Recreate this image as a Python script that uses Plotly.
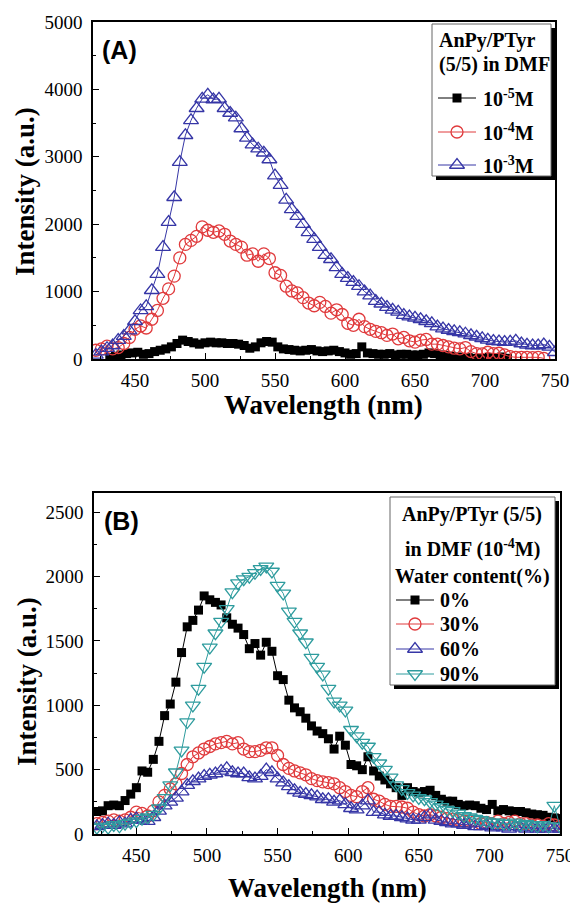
import plotly.graph_objects as go

# ---------------- DATA ----------------
# Panel A: AnPy/PTyr (5/5) in DMF, different concentrations
wl_a = [422, 426, 430, 434, 438, 442, 446, 450, 454, 458,
        462, 466, 470, 474, 478, 482, 486, 490, 494, 498,
        502, 506, 510, 514, 518, 522, 526, 530, 534, 538,
        542, 546, 550, 554, 558, 562, 566, 570, 574, 578,
        582, 586, 590, 594, 598, 602, 606, 610, 614, 618,
        622, 626, 630, 634, 638, 642, 646, 650, 654, 658,
        662, 666, 670, 674, 678, 682, 686, 690, 694, 698,
        702, 706, 710, 714, 718, 722, 726, 730, 734, 738,
        742, 746, 750]

int_a_1e3 = [60, 110, 160, 200, 280, 340, 420, 560, 720, 780,
             1020, 1260, 1660, 2030, 2400, 2920, 3320, 3540, 3720, 3860,
             3920, 3850, 3860, 3720, 3650, 3580, 3420, 3280, 3180, 3120,
             3060, 2960, 2720, 2580, 2360, 2220, 2120, 2000, 1880, 1780,
             1660, 1540, 1480, 1360, 1260, 1200, 1140, 1080, 1000, 940,
             860, 820, 770, 730, 700, 650, 630, 610, 590, 560,
             530, 480, 450, 430, 410, 395, 375, 350, 330, 305,
             285, 265, 260, 250, 255, 270, 230, 210, 200, 200,
             215, 180, 100]

wl_a_1e4 = wl_a[:81]
int_a_1e4 = [130, 150, 190, 150, 170, 230, 320, 440, 490, 460,
             590, 720, 900, 1040, 1230, 1500, 1700, 1760, 1820, 1960,
             1910, 1880, 1900, 1850, 1750, 1700, 1660, 1540, 1560, 1450,
             1560, 1490, 1280, 1240, 1080, 1010, 980, 910, 830, 790,
             840, 780, 680, 730, 660, 530, 500, 590, 480, 440,
             410, 390, 350, 370, 300, 320, 270, 250, 280, 290,
             220, 220, 200, 180, 160, 150, 170, 110, 80, 75,
             100, 80, 85, 60, 35, 25, 25, 25, 20, 25,
             10]

wl_a_1e5 = [432, 436, 440, 444, 448, 452, 456, 460, 464, 468,
            472, 476, 480, 484, 488, 492, 496, 500, 504, 508,
            512, 516, 520, 524, 528, 532, 536, 540, 544, 548,
            552, 556, 560, 564, 568, 572, 576, 580, 584, 588,
            592, 596, 600, 604, 608, 612, 616, 620, 624, 628,
            632, 636, 640, 644, 648, 652, 656, 660, 664, 668,
            672, 676, 680, 684, 688, 692, 696, 700, 704, 708,
            712, 716]
int_a_1e5 = [20, 40, 60, 80, 90, 100, 70, 80, 110, 130,
             150, 180, 230, 280, 260, 240, 220, 240, 250, 240,
             240, 230, 230, 220, 200, 160, 180, 240, 260, 250,
             180, 150, 140, 130, 120, 130, 140, 120, 110, 120,
             130, 110, 90, 70, 80, 180, 90, 80, 70, 70,
             80, 60, 70, 70, 60, 60, 70, 90, 80, 60,
             50, 40, 30, 20, 20, 10, 10, 10, 20, 10,
             30, 10]

# Panel B: AnPy/PTyr (5/5) in DMF (1e-4 M), water content
wl_b = list(wl_a)
int_b_0 = [175, 180, 220, 225, 220, 260, 310, 360, 490, 480,
           580, 720, 920, 1010, 1180, 1410, 1610, 1660, 1740, 1850,
           1820, 1800, 1780, 1680, 1630, 1600, 1550, 1440, 1480, 1390,
           1490, 1420, 1230, 1200, 1040, 980, 950, 900, 840, 800,
           780, 740, 660, 760, 690, 540, 530, 500, 600, 490,
           450, 420, 390, 360, 300, 360, 330, 320, 330, 340,
           300, 270, 255, 255, 230, 220, 225, 220, 200, 190,
           230, 180, 190, 180, 175, 175, 165, 155, 150, 145,
           130, 125, 120]
int_b_30 = [80, 90, 100, 110, 100, 110, 130, 170, 160, 140,
            180, 250, 300, 350, 390, 470, 540, 600, 630, 660,
            680, 700, 710, 720, 700, 710, 660, 640, 640, 650,
            670, 670, 610, 540, 510, 490, 475, 460, 430, 415,
            405, 400, 390, 360, 330, 300, 290, 330, 360, 270,
            255, 230, 215, 215, 210, 200, 170, 150, 140, 150,
            140, 130, 120, 115, 110, 100, 100, 100, 80, 90,
            80, 100, 80, 90, 100, 80, 80, 70, 70, 60,
            80, 70, 60]
int_b_60 = [60, 70, 80, 70, 90, 80, 110, 120, 110, 100,
            130, 180, 220, 250, 280, 330, 380, 410, 430, 450,
            460, 470, 490, 510, 480, 470, 470, 440, 430, 450,
            500, 480, 430, 400, 370, 340, 320, 310, 300, 290,
            270, 270, 250, 260, 230, 200, 190, 220, 260, 170,
            170, 150, 140, 140, 130, 120, 110, 110, 130, 150,
            110, 100, 90, 80, 80, 70, 80, 60, 60, 70,
            50, 60, 50, 40, 60, 50, 40, 50, 40, 40,
            50, 40, 40]
int_b_90 = [50, 60, 50, 70, 60, 80, 90, 100, 120, 130,
            150, 200, 280, 380, 480, 650, 870, 1000, 1130, 1300,
            1450, 1560, 1650, 1750, 1880, 1950, 1980, 2000, 2030, 2060,
            2080, 2040, 1930, 1870, 1730, 1650, 1560, 1490, 1370, 1300,
            1240, 1130, 1030, 1000, 960, 810, 760, 710, 680, 600,
            550, 500, 440, 380, 350, 320, 300, 280, 270, 250,
            230, 210, 190, 180, 160, 140, 130, 120, 110, 100,
            90, 90, 80, 80, 90, 70, 80, 70, 60, 70,
            60, 220, 60]

for xs, ys in [(wl_a, int_a_1e3), (wl_a_1e4, int_a_1e4), (wl_a_1e5, int_a_1e5),
               (wl_b, int_b_0), (wl_b, int_b_30), (wl_b, int_b_60), (wl_b, int_b_90)]:
    assert len(xs) == len(ys), (len(xs), len(ys))

# ---------------- STYLE ----------------
W, H = 570, 903
SERIF = "Liberation Serif"
SANS = "Liberation Sans"
BLACK = "#000000"
RED = "#E03A3C"
BLUE = "#3636A6"
TEAL = "#2E9C9E"

STY = {
    "sq": dict(symbol="square", size=9, color=BLACK, line=dict(width=0)),
    "ci": dict(symbol="circle-open", size=12, color=RED, line=dict(width=1.3, color=RED)),
    "tu": dict(symbol="triangle-up-open", size=13, color=BLUE, line=dict(width=1.3, color=BLUE)),
    "td": dict(symbol="triangle-down-open", size=13, color=TEAL, line=dict(width=1.3, color=TEAL)),
}
LINECOL = {"sq": BLACK, "ci": RED, "tu": BLUE, "td": TEAL}

fig = go.Figure()


def add_series(x, y, key, xa, ya):
    fig.add_trace(go.Scatter(
        x=x, y=y, mode="lines+markers", xaxis=xa, yaxis=ya,
        marker=STY[key], line=dict(color=LINECOL[key], width=1),
        showlegend=False, hoverinfo="skip"))


add_series(wl_a_1e5, int_a_1e5, "sq", "x", "y")
add_series(wl_a_1e4, int_a_1e4, "ci", "x", "y")
add_series(wl_a, int_a_1e3, "tu", "x", "y")

add_series(wl_b, int_b_0, "sq", "x2", "y2")
add_series(wl_b, int_b_30, "ci", "x2", "y2")
add_series(wl_b, int_b_60, "tu", "x2", "y2")
add_series(wl_b, int_b_90, "td", "x2", "y2")

# ---------------- AXES ----------------
tickfont = dict(family=SERIF, size=19, color=BLACK)


def xax(domain, anchor):
    return dict(domain=domain, anchor=anchor, range=[420, 750], tick0=450, dtick=50,
                showline=True, linecolor=BLACK, linewidth=1.5, mirror=True,
                ticks="inside", ticklen=6, tickwidth=1.2, tickcolor=BLACK,
                minor=dict(ticks="inside", ticklen=3, dtick=25, tickwidth=1, tickcolor=BLACK),
                showgrid=False, zeroline=False, tickfont=tickfont, ticklabelstandoff=3,
                ticklabeloverflow="allow", automargin=False)


def yax(domain, anchor, rng, dtick):
    return dict(domain=domain, anchor=anchor, range=rng, tick0=0, dtick=dtick,
                showline=True, linecolor=BLACK, linewidth=1.5, mirror=True,
                ticks="inside", ticklen=6, tickwidth=1.2, tickcolor=BLACK,
                minor=dict(ticks="inside", ticklen=3, dtick=dtick / 2, tickwidth=1, tickcolor=BLACK),
                showgrid=False, zeroline=False, tickfont=tickfont, ticklabelstandoff=5,
                ticklabeloverflow="allow", automargin=False)


fig.update_layout(
    width=W, height=H, margin=dict(l=0, r=0, t=0, b=0, pad=0, autoexpand=False),
    paper_bgcolor="white", plot_bgcolor="rgba(0,0,0,0)",
    font=dict(family=SERIF, color=BLACK),
    xaxis=xax([93 / W, 555 / W], "y"),
    yaxis=yax([1 - 359 / H, 1 - 22 / H], "x", [0, 5000], 1000),
    xaxis2=xax([94 / W, 560 / W], "y2"),
    yaxis2=yax([1 - 834 / H, 1 - 493 / H], "x2", [0, 2650], 500),
    # pixel-coordinate overlay used for the hand-drawn legends
    xaxis3=dict(domain=[0, 1], anchor="y3", range=[0, W], visible=False, fixedrange=True,
                automargin=False),
    yaxis3=dict(domain=[0, 1], anchor="x3", range=[H, 0], visible=False, fixedrange=True,
                automargin=False),
)

# ---------------- TITLES / LABELS ----------------
ann = []
titlefont = dict(family=SERIF, size=27, color=BLACK)
for (xc, yc, txt, rot) in [(323, 405, "<b>Wavelength (nm)</b>", 0),
                           (327, 888, "<b>Wavelength (nm)</b>", 0),
                           (25, 192, "<b>Intensity (a.u.)</b>", -90),
                           (27, 682, "<b>Intensity (a.u.)</b>", -90)]:
    ann.append(dict(x=xc, y=yc, xref="x3", yref="y3", text=txt, textangle=rot,
                    showarrow=False, xanchor="center", yanchor="middle", font=titlefont))

for (xl, yc, txt) in [(100, 50, "<b>(A)</b>"), (102, 521, "<b>(B)</b>")]:
    ann.append(dict(x=xl, y=yc, xref="x3", yref="y3", text=txt, showarrow=False,
                    xanchor="left", yanchor="middle",
                    font=dict(family=SANS, size=25, color=BLACK)))

# ---------------- LEGENDS ----------------
legfont = dict(family=SERIF, size=20, color=BLACK)
shapes = []


def legend_box(x0, y0, x1, y1):
    shapes.append(dict(type="rect", xref="x3", yref="y3", x0=x0 + 4, y0=y0 + 4, x1=x1 + 4, y1=y1 + 4,
                       fillcolor=BLACK, line=dict(width=0), layer="below"))
    shapes.append(dict(type="rect", xref="x3", yref="y3", x0=x0, y0=y0, x1=x1, y1=y1,
                       fillcolor="white", line=dict(color="#666666", width=1), layer="below"))


def legend_entry(lx0, lx1, yc, key, label, tx):
    fig.add_trace(go.Scatter(x=[lx0, lx1], y=[yc, yc], mode="lines", xaxis="x3", yaxis="y3",
                             line=dict(color=LINECOL[key], width=1), showlegend=False, hoverinfo="skip"))
    fig.add_trace(go.Scatter(x=[(lx0 + lx1) / 2], y=[yc], mode="markers", xaxis="x3", yaxis="y3",
                             marker=STY[key], showlegend=False, hoverinfo="skip"))
    ann.append(dict(x=tx, y=yc, xref="x3", yref="y3", text="<b>" + label + "</b>", showarrow=False,
                    xanchor="left", yanchor="middle", font=legfont))


# Panel A legend
legend_box(432, 24, 551, 176)
for (yc, txt) in [(40, "AnPy/PTyr"), (64, "(5/5) in DMF")]:
    ann.append(dict(x=437, y=yc, xref="x3", yref="y3", text="<b>" + txt + "</b>", showarrow=False,
                    xanchor="left", yanchor="middle", font=legfont))
legend_entry(438, 476, 98, "sq", "10<sup>-5</sup>M", 481)
legend_entry(438, 476, 132, "ci", "10<sup>-4</sup>M", 481)
legend_entry(438, 476, 165, "tu", "10<sup>-3</sup>M", 481)

# Panel B legend
legend_box(390, 497, 555, 685)
for (yc, txt) in [(514, "AnPy/PTyr (5/5)"), (548, "in DMF (10<sup>-4</sup>M)"), (576, "Water content(%)")]:
    ann.append(dict(x=472, y=yc, xref="x3", yref="y3", text="<b>" + txt + "</b>", showarrow=False,
                    xanchor="center", yanchor="middle", font=legfont))
legend_entry(396, 434, 600, "sq", "0%", 438)
legend_entry(396, 434, 624, "ci", "30%", 438)
legend_entry(396, 434, 649, "tu", "60%", 438)
legend_entry(396, 434, 674, "td", "90%", 438)

fig.update_layout(annotations=ann, shapes=shapes)
fig.write_html("out.html")
